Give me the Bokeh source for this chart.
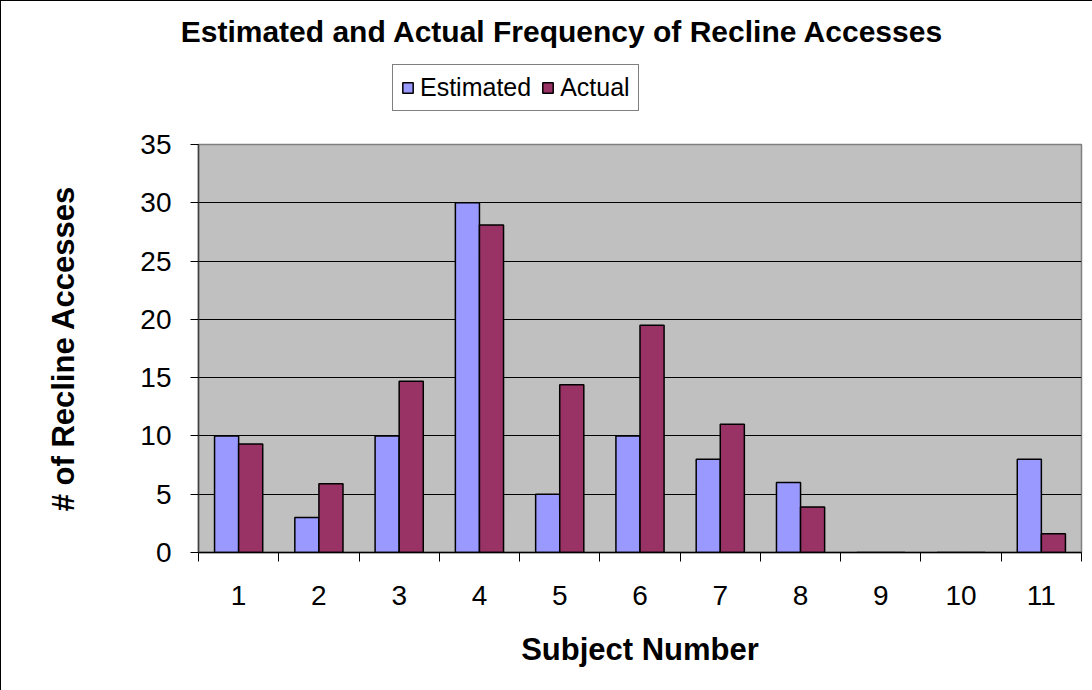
from bokeh.plotting import figure
from bokeh.layouts import column
from bokeh.models import (ColumnDataSource, FixedTicker, Legend, LegendItem, Range1d, Label)
from bokeh.transform import dodge
from bokeh.embed import file_html
from bokeh.resources import INLINE

subjects = [1, 2, 3, 4, 5, 6, 7, 8, 9, 10, 11]
estimated = [10, 3, 10, 30, 5, 10, 8, 6, 0, 0, 8]
actual = [9.3, 5.9, 14.7, 28.1, 14.4, 19.5, 11.0, 3.9, 0, 0, 1.6]
y_ticks = [0, 5, 10, 15, 20, 25, 30, 35]

title_text = "Estimated and Actual Frequency of Recline Accesses"
x_label = "Subject Number"
y_label = "# of Recline Accesses"
series_names = ["Estimated", "Actual"]
series_colors = ["#9999FF", "#993366"]

FONT = "Liberation Sans"
TOP_H = 118
FRAME_TOP = 143

# ---------- header (title + legend) ----------
top = figure(width=1092, height=TOP_H, output_backend="svg", toolbar_location=None,
             x_range=Range1d(0, 1092), y_range=Range1d(0, TOP_H), min_border=0)
top.frame_align = False
top.axis.visible = False
top.grid.visible = False
top.outline_line_color = None
top.background_fill_color = "white"

top.add_layout(Label(x=561, y=TOP_H - 30, x_units="screen", y_units="screen",
                     text=title_text, text_font=FONT, text_font_style="bold",
                     text_font_size="30px", text_color="black",
                     text_align="center", text_baseline="middle"))

# legend swatches: renderers holding no visible data, only their styling
dummy = [top.vbar(x=[float("nan")], top=[float("nan")], width=1, fill_color=c,
                  line_color="black", line_width=1.5)
         for c in series_colors]
legend = Legend(items=[LegendItem(label=n, renderers=[r]) for n, r in zip(series_names, dummy)],
                orientation="horizontal", location=(391, TOP_H - 110),
                label_text_font=FONT, label_text_font_size="25px",
                label_text_color="black",
                glyph_width=13, glyph_height=13, spacing=10, padding=8,
                label_standoff=6, border_line_color="black", border_line_width=1,
                background_fill_alpha=1, margin=0)
top.add_layout(legend)

# ---------- main chart ----------
src = ColumnDataSource(dict(x=subjects, est=estimated, act=actual))

p = figure(width=1092, height=690 - TOP_H, output_backend="svg", toolbar_location=None,
           x_range=Range1d(0.5, 11.5), y_range=Range1d(0, 35),
           min_border_left=197, min_border_right=12, min_border_top=FRAME_TOP - TOP_H,
           min_border_bottom=139)
p.background_fill_color = "#C0C0C0"
p.border_fill_color = "white"
p.outline_line_color = "#808080"
p.outline_line_width = 1.5

p.vbar(x=dodge("x", -0.15, range=p.x_range), top="est", width=0.3, source=src,
       fill_color=series_colors[0], line_color="black", line_width=1.5)
p.vbar(x=dodge("x", 0.15, range=p.x_range), top="act", width=0.3, source=src,
       fill_color=series_colors[1], line_color="black", line_width=1.5)

# x axis
xt = FixedTicker(ticks=subjects, minor_ticks=[s - 0.5 for s in subjects] + [11.5])
p.xaxis.ticker = xt
p.xaxis.major_tick_line_color = None
p.xaxis.major_tick_out = 6
p.xaxis.minor_tick_line_color = "black"
p.xaxis.minor_tick_out = 9
p.xaxis.minor_tick_in = 0
p.xaxis.axis_line_color = "black"
p.xaxis.axis_line_width = 1.5
p.xaxis.major_label_text_font = FONT
p.xaxis.major_label_text_font_size = "28px"
p.xaxis.major_label_text_color = "black"
p.xaxis.major_label_standoff = 24
p.xaxis.axis_label = x_label
p.xaxis.axis_label_text_font = FONT
p.xaxis.axis_label_text_font_style = "bold"
p.xaxis.axis_label_text_font_size = "31px"
p.xaxis.axis_label_text_color = "black"
p.xaxis.axis_label_standoff = 24

# y axis
p.yaxis.ticker = FixedTicker(ticks=y_ticks)
p.yaxis.minor_tick_line_color = None
p.yaxis.major_tick_out = 8
p.yaxis.major_tick_in = 0
p.yaxis.axis_line_color = "#404040"
p.yaxis.axis_line_width = 1.5
p.yaxis.major_label_text_font = FONT
p.yaxis.major_label_text_font_size = "28px"
p.yaxis.major_label_text_color = "black"
p.yaxis.major_label_standoff = 19
p.yaxis.axis_label = y_label
p.yaxis.axis_label_text_font = FONT
p.yaxis.axis_label_text_font_style = "bold"
p.yaxis.axis_label_text_font_size = "31px"
p.yaxis.axis_label_text_color = "black"
p.yaxis.axis_label_standoff = 56

p.xgrid.grid_line_color = None
p.ygrid.grid_line_color = "black"
p.ygrid.grid_line_width = 1

layout = column(top, p, spacing=0)
layout.styles = {"border-left": "1px solid black", "border-top": "1px solid black",
                 "border-right": "1px solid black"}

open("out.html", "w").write(file_html(layout, INLINE))
